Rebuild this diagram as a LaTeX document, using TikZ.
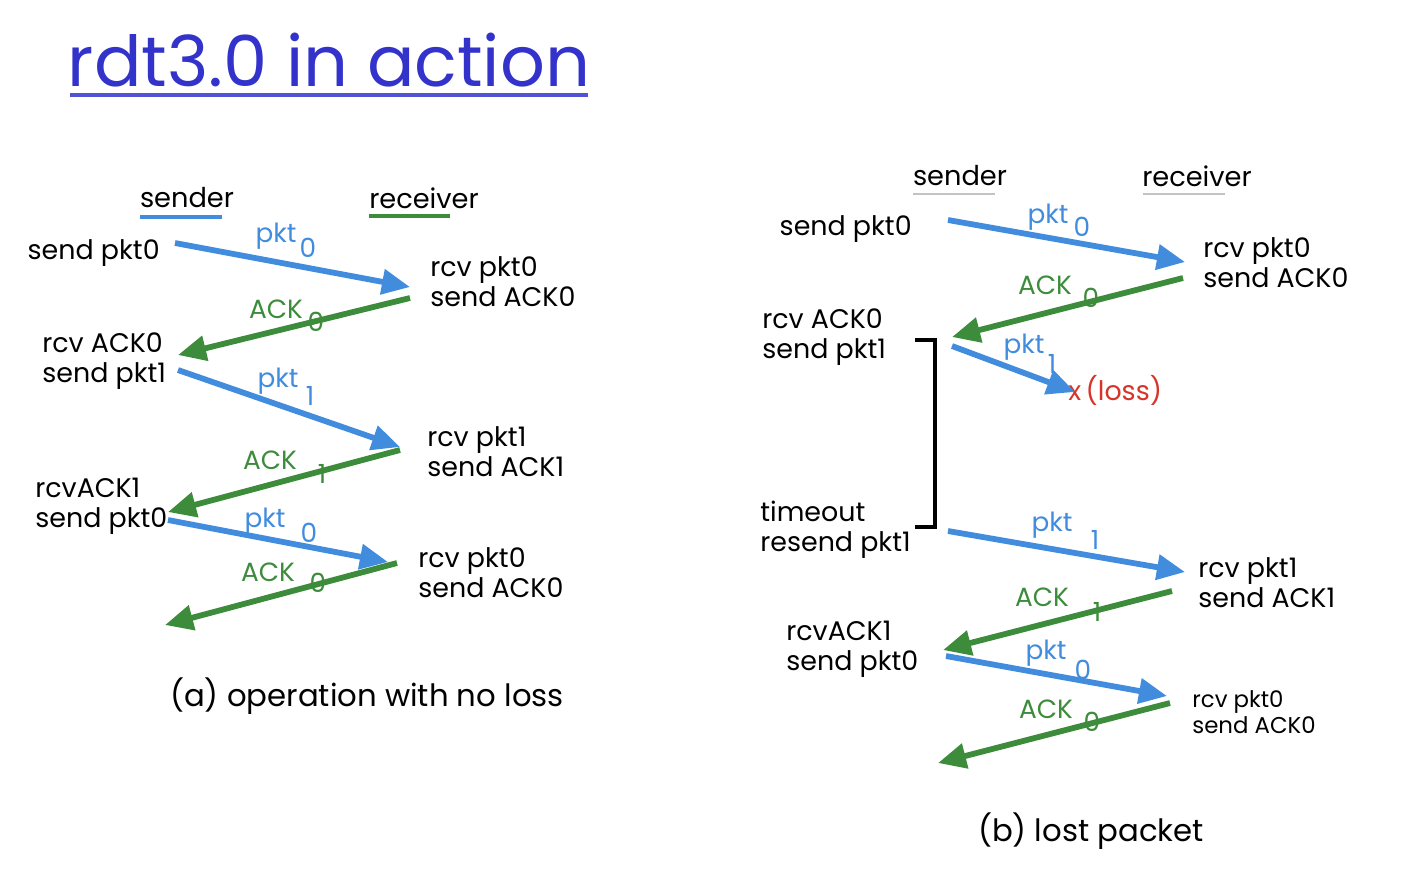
\documentclass[tikz,border=0pt]{standalone}
\usepackage{fontspec}
\setmainfont{Poppins}
\usetikzlibrary{arrows.meta,positioning}
\definecolor{pktblue}{RGB}{66,140,222}
\definecolor{ackgreen}{RGB}{60,140,60}
\definecolor{lossred}{RGB}{214,52,40}
\definecolor{titleblue}{RGB}{51,51,204}
\definecolor{rulegray}{RGB}{195,195,195}
\tikzstyle{event} = [align=left, inner sep=0pt, font=\fontsize{15.3}{17}\selectfont]
\tikzstyle{who} = [inner sep=0pt, font=\fontsize{15.5}{18}\selectfont]
\tikzset{
  pkt/.style ={draw=pktblue, line width=3.3pt, -{Triangle[length=16pt,width=14pt]}},
  ack/.style ={draw=ackgreen, line width=3.3pt, -{Triangle[length=16pt,width=14pt]}},
  pktlbl/.style ={inner sep=0pt, text=pktblue, font=\fontsize{15}{17}\selectfont},
  acklbl/.style ={inner sep=0pt, text=ackgreen, font=\fontsize{15}{17}\selectfont},
  caption/.style ={inner sep=0pt, font=\fontsize{17.5}{20}\selectfont}
}
\begin{document}
\begin{tikzpicture}[x=0.02cm,y=-0.02cm]
  \useasboundingbox (0,0) rectangle (1408,894);
  \node[inner sep=0pt, text=titleblue, font=\fontsize{40}{46}\selectfont] (title) at (329,60) {rdt3.0 in action};
  \draw[titleblue!85!white, line width=1.8pt] (70,95) -- (588,95);

  % (a) operation with no loss
  \node[who] (sendera) at (187,198) {sender};
  \node[who] (receivera) at (424,198) {receiver};
  \draw[pktblue, line width=2.2pt] (140,217) -- (222,217);
  \draw[ackgreen, line width=2.2pt] (369,216) -- (450,216);

  \node[event, anchor=east] (sendpkt0a) at (160,253) {send pkt0};
  \node[event, anchor=west] (rcvpkt0a) at (430,282) {rcv pkt0\\send ACK0};
  \node[event, anchor=west] (rcvack0a) at (42,361) {rcv ACK0\\send pkt1};
  \node[event, anchor=west] (rcvpkt1a) at (427,452) {rcv pkt1\\send ACK1};
  \node[event, anchor=west] (rcvack1a) at (35,506) {rcvACK1\\send pkt0};
  \node[event, anchor=west] (rcvpkt0aa) at (418,573) {rcv pkt0\\send ACK0};
  \node[caption] (capa) at (367,696) {(a) operation with no loss};

  \coordinate (as0) at (175,243);  \coordinate (ar0) at (410,287);
  \coordinate (ar0k) at (410,298); \coordinate (as0k) at (178,355);
  \coordinate (as1) at (178,370);  \coordinate (ar1) at (400,447);
  \coordinate (ar1k) at (400,450); \coordinate (as1k) at (168,512);
  \coordinate (as2) at (168,520);  \coordinate (ar2) at (388,562);
  \coordinate (ar2k) at (397,563); \coordinate (as2k) at (165,625);

  \draw[pkt] (as0) -- (ar0);
  \draw[ack] (ar0k) -- (as0k);
  \draw[pkt] (as1) -- (ar1);
  \draw[ack] (ar1k) -- (as1k);
  \draw[pkt] (as2) -- (ar2);
  \draw[ack] (ar2k) -- (as2k);

  \node[pktlbl] (pa0) at (276,236) {pkt};  \node[pktlbl] (pa0n) at (308,248) {0};
  \node[acklbl] (ka0) at (276,309) {ACK};  \node[acklbl] (ka0n) at (316,322) {0};
  \node[pktlbl] (pa1) at (278,381) {pkt};  \node[pktlbl] (pa1n) at (310,396) {1};
  \node[acklbl] (ka1) at (270,460) {ACK};  \node[acklbl] (ka1n) at (322,474) {1};
  \node[pktlbl] (pa2) at (265,521) {pkt};  \node[pktlbl] (pa2n) at (309,533) {0};
  \node[acklbl] (ka2) at (268,572) {ACK};  \node[acklbl] (ka2n) at (318,583) {0};

  % (b) lost packet
  \node[who] (senderb) at (960,176) {sender};
  \node[who] (receiverb) at (1197,176) {receiver};
  \draw[rulegray, line width=1.4pt] (913,194) -- (995,194);
  \draw[rulegray, line width=1.4pt] (1143,194) -- (1225,194);

  \node[event, anchor=east] (sendpkt0b) at (912,229) {send pkt0};
  \node[event, anchor=west] (rcvpkt0b) at (1203,263) {rcv pkt0\\send ACK0};
  \node[event, anchor=west] (rcvack0b) at (762,337) {rcv ACK0\\send pkt1};
  \node[event, anchor=west, text=lossred] (loss) at (1068,390) {x\,(loss)};
  \node[event, anchor=west] (timeout) at (760,530) {timeout\\resend pkt1};
  \node[event, anchor=west] (rcvpkt1b) at (1198,583) {rcv pkt1\\send ACK1};
  \node[event, anchor=west] (rcvack1b) at (786,649) {rcvACK1\\send pkt0};
  \node[event, anchor=west, font=\fontsize{13}{14.5}\selectfont] (rcvpkt0bb) at (1192,712) {rcv pkt0\\send ACK0};
  \node[caption] (capb) at (1091,831) {(b) lost packet};

  \draw[black, line width=2.3pt] (915,340) -- (935,340) -- (935,527) -- (915,527);

  \coordinate (bs0) at (948,220);   \coordinate (br0) at (1185,262);
  \coordinate (br0k) at (1183,278); \coordinate (bs0k) at (952,337);
  \coordinate (bs1) at (952,346);   \coordinate (lost) at (1075,392);
  \coordinate (bs1t) at (948,531);  \coordinate (br1) at (1185,572);
  \coordinate (br1k) at (1172,591); \coordinate (bs1k) at (943,650);
  \coordinate (bs2) at (946,656);   \coordinate (br2) at (1167,696);
  \coordinate (br2k) at (1170,703); \coordinate (bs2k) at (938,763);

  \draw[pkt] (bs0) -- (br0);
  \draw[ack] (br0k) -- (bs0k);
  \draw[pkt] (bs1) -- (lost);
  \draw[pkt] (bs1t) -- (br1);
  \draw[ack] (br1k) -- (bs1k);
  \draw[pkt] (bs2) -- (br2);
  \draw[ack] (br2k) -- (bs2k);

  \node[pktlbl] (pb0) at (1048,217) {pkt};  \node[pktlbl] (pb0n) at (1082,227) {0};
  \node[acklbl] (kb0) at (1045,285) {ACK};  \node[acklbl] (kb0n) at (1091,298) {0};
  \node[pktlbl] (pb1) at (1024,347) {pkt};  \node[pktlbl] (pb1n) at (1052,364) {1};
  \node[pktlbl] (pb1t) at (1052,525) {pkt}; \node[pktlbl] (pb1tn) at (1095,540) {1};
  \node[acklbl] (kb1) at (1042,597) {ACK};  \node[acklbl] (kb1n) at (1097,612) {1};
  \node[pktlbl] (pb2) at (1046,653) {pkt};  \node[pktlbl] (pb2n) at (1083,670) {0};
  \node[acklbl] (kb2) at (1046,709) {ACK};  \node[acklbl] (kb2n) at (1092,722) {0};
\end{tikzpicture}
\end{document}
